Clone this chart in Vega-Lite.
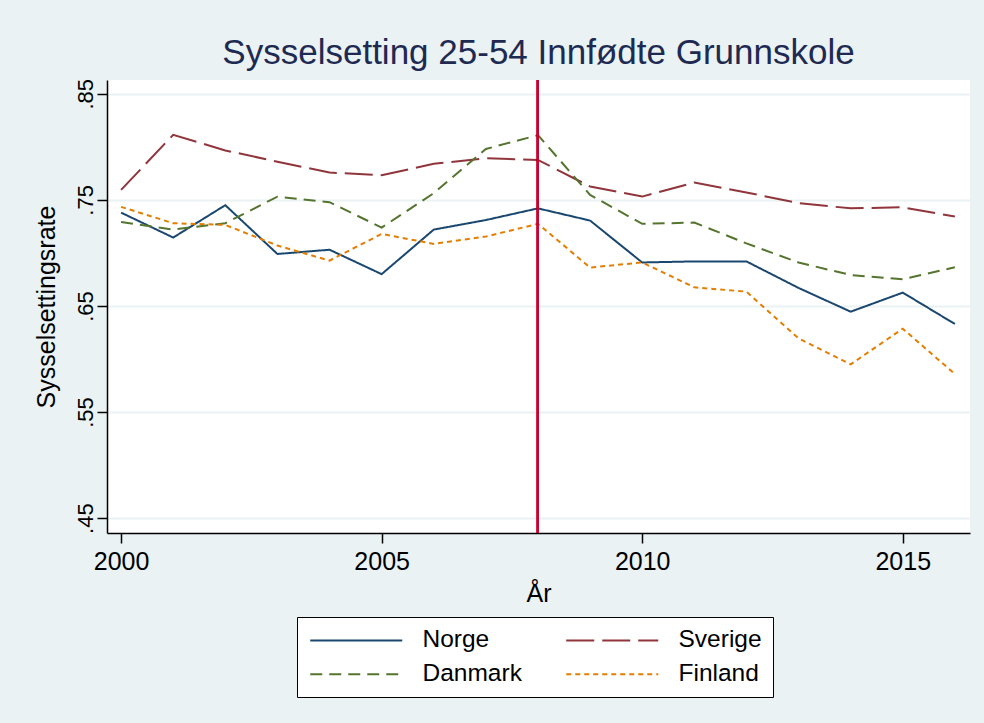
{
  "$schema": "https://vega.github.io/schema/vega-lite/v6.json",
  "autosize": {"type": "none"},
  "width": 863,
  "height": 453,
  "padding": {"left": 107, "top": 80, "right": 14, "bottom": 190},
  "background": "#EAF2F3",
  "config": {
    "font": "Liberation Sans",
    "view": {"fill": "white", "stroke": null}
  },
  "title": {
    "text": "Sysselsetting 25-54 Innfødte Grunnskole",
    "fontSize": 35,
    "font": "Liberation Sans",
    "fontWeight": "normal",
    "color": "#1E2A52",
    "anchor": "middle",
    "frame": "group",
    "offset": 8
  },
  "data": {
    "values": [
      {"year": 2000, "country": "Norge", "rate": 0.738},
      {"year": 2001, "country": "Norge", "rate": 0.7145},
      {"year": 2002, "country": "Norge", "rate": 0.745},
      {"year": 2003, "country": "Norge", "rate": 0.699},
      {"year": 2004, "country": "Norge", "rate": 0.703},
      {"year": 2005, "country": "Norge", "rate": 0.680},
      {"year": 2006, "country": "Norge", "rate": 0.722},
      {"year": 2007, "country": "Norge", "rate": 0.731},
      {"year": 2008, "country": "Norge", "rate": 0.742},
      {"year": 2009, "country": "Norge", "rate": 0.7305},
      {"year": 2010, "country": "Norge", "rate": 0.691},
      {"year": 2011, "country": "Norge", "rate": 0.692},
      {"year": 2012, "country": "Norge", "rate": 0.692},
      {"year": 2013, "country": "Norge", "rate": 0.667},
      {"year": 2014, "country": "Norge", "rate": 0.6446},
      {"year": 2015, "country": "Norge", "rate": 0.6626},
      {"year": 2016, "country": "Norge", "rate": 0.633},
      {"year": 2000, "country": "Sverige", "rate": 0.7594},
      {"year": 2001, "country": "Sverige", "rate": 0.8113},
      {"year": 2002, "country": "Sverige", "rate": 0.7966},
      {"year": 2003, "country": "Sverige", "rate": 0.786},
      {"year": 2004, "country": "Sverige", "rate": 0.7758},
      {"year": 2005, "country": "Sverige", "rate": 0.7733},
      {"year": 2006, "country": "Sverige", "rate": 0.784},
      {"year": 2007, "country": "Sverige", "rate": 0.7893},
      {"year": 2008, "country": "Sverige", "rate": 0.7877},
      {"year": 2009, "country": "Sverige", "rate": 0.7626},
      {"year": 2010, "country": "Sverige", "rate": 0.7531},
      {"year": 2011, "country": "Sverige", "rate": 0.7664},
      {"year": 2012, "country": "Sverige", "rate": 0.757},
      {"year": 2013, "country": "Sverige", "rate": 0.7469},
      {"year": 2014, "country": "Sverige", "rate": 0.742},
      {"year": 2015, "country": "Sverige", "rate": 0.743},
      {"year": 2016, "country": "Sverige", "rate": 0.7343},
      {"year": 2000, "country": "Danmark", "rate": 0.7292},
      {"year": 2001, "country": "Danmark", "rate": 0.722},
      {"year": 2002, "country": "Danmark", "rate": 0.728},
      {"year": 2003, "country": "Danmark", "rate": 0.753},
      {"year": 2004, "country": "Danmark", "rate": 0.7478},
      {"year": 2005, "country": "Danmark", "rate": 0.7239},
      {"year": 2006, "country": "Danmark", "rate": 0.7563},
      {"year": 2007, "country": "Danmark", "rate": 0.798},
      {"year": 2008, "country": "Danmark", "rate": 0.811},
      {"year": 2009, "country": "Danmark", "rate": 0.7547},
      {"year": 2010, "country": "Danmark", "rate": 0.7274},
      {"year": 2011, "country": "Danmark", "rate": 0.7286},
      {"year": 2012, "country": "Danmark", "rate": 0.709},
      {"year": 2013, "country": "Danmark", "rate": 0.691},
      {"year": 2014, "country": "Danmark", "rate": 0.6792},
      {"year": 2015, "country": "Danmark", "rate": 0.6752},
      {"year": 2016, "country": "Danmark", "rate": 0.6865},
      {"year": 2000, "country": "Finland", "rate": 0.7434},
      {"year": 2001, "country": "Finland", "rate": 0.728},
      {"year": 2002, "country": "Finland", "rate": 0.7264},
      {"year": 2003, "country": "Finland", "rate": 0.707},
      {"year": 2004, "country": "Finland", "rate": 0.6928},
      {"year": 2005, "country": "Finland", "rate": 0.7179},
      {"year": 2006, "country": "Finland", "rate": 0.7085},
      {"year": 2007, "country": "Finland", "rate": 0.7154},
      {"year": 2008, "country": "Finland", "rate": 0.7274},
      {"year": 2009, "country": "Finland", "rate": 0.6862},
      {"year": 2010, "country": "Finland", "rate": 0.691},
      {"year": 2011, "country": "Finland", "rate": 0.6676},
      {"year": 2012, "country": "Finland", "rate": 0.6635},
      {"year": 2013, "country": "Finland", "rate": 0.6195},
      {"year": 2014, "country": "Finland", "rate": 0.595},
      {"year": 2015, "country": "Finland", "rate": 0.6286},
      {"year": 2016, "country": "Finland", "rate": 0.5858}
    ]
  },
  "layer": [
    {
      "mark": {"type": "line", "strokeWidth": 2, "clip": true},
      "encoding": {
        "x": {
          "field": "year",
          "type": "quantitative",
          "scale": {"domain": [1999.73, 2016.29], "nice": false, "zero": false},
          "axis": {
            "values": [2000, 2005, 2010, 2015],
            "format": "d",
            "title": "År",
            "titleFontSize": 25,
            "titleFontWeight": "normal",
            "titleColor": "black",
            "titlePadding": 7,
            "labelFontSize": 25,
            "labelColor": "black",
            "labelPadding": 6,
            "domainColor": "black",
            "domainWidth": 1.5,
            "tickColor": "black",
            "tickSize": 10,
            "tickWidth": 1.5,
            "grid": false
          }
        },
        "y": {
          "field": "rate",
          "type": "quantitative",
          "scale": {"domain": [0.436, 0.863], "nice": false, "zero": false},
          "axis": {
            "values": [0.45, 0.55, 0.65, 0.75, 0.85],
            "labelExpr": "replace(format(datum.value, '.2f'), '0.', '.')",
            "labelAngle": 270,
            "labelAlign": "center",
            "labelBaseline": "alphabetic",
            "labelFontSize": 22,
            "labelColor": "black",
            "labelPadding": 5,
            "title": "Sysselsettingsrate",
            "titleFontSize": 25,
            "titleFontWeight": "normal",
            "titleColor": "black",
            "titlePadding": 15,
            "domainColor": "black",
            "domainWidth": 1.5,
            "tickColor": "black",
            "tickSize": 10,
            "tickWidth": 1.5,
            "grid": true,
            "gridColor": "#EAF2F3",
            "gridWidth": 2
          }
        },
        "color": {
          "field": "country",
          "type": "nominal",
          "scale": {
            "domain": ["Norge", "Sverige", "Danmark", "Finland"],
            "range": ["#1A476F", "#90353B", "#55752F", "#E37E00"]
          },
          "legend": {
            "title": null,
            "orient": "none",
            "legendX": 190,
            "legendY": 537,
            "columns": 2,
            "direction": "horizontal",
            "symbolType": "M-1,0H8.2",
            "symbolSize": 400,
            "symbolStrokeWidth": 2,
            "labelFontSize": 24.5,
            "labelColor": "black",
            "labelOffset": 90,
            "columnPadding": 40,
            "rowPadding": 9,
            "padding": 11,
            "strokeColor": "black",
            "fillColor": "white",
            "labelLimit": 300
          }
        },
        "strokeDash": {
          "field": "country",
          "type": "nominal",
          "scale": {
            "domain": ["Norge", "Sverige", "Danmark", "Finland"],
            "range": [[1, 0], [28, 8], [12, 7], [5, 4]]
          },
          "legend": null
        }
      }
    },
    {
      "mark": {"type": "rule", "color": "#C10534", "strokeWidth": 2},
      "encoding": {"x": {"datum": 2008}}
    }
  ]
}
